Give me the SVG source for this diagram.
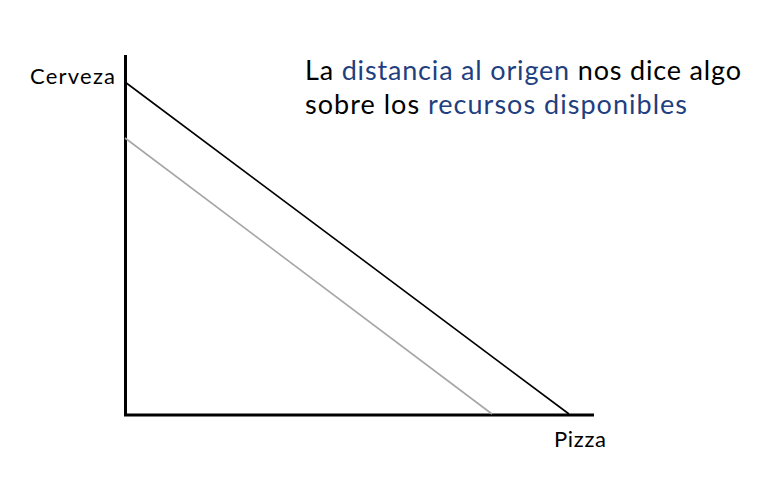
<svg xmlns="http://www.w3.org/2000/svg" width="762" height="477" viewBox="0 0 762 477">
<style>
text{font-family:Lato,"Liberation Sans",sans-serif;fill:#000}
.t{font-size:27px}
.b{fill:#1f3f80}
.l{font-size:22px}
</style>
<rect width="762" height="477" fill="#fff"/>
<g id="connectors" fill="none" stroke-linecap="butt">
<path d="M125.5 55 V415 H594" stroke="#000" stroke-width="3"/>
<path d="M125 82 L569 414" stroke="#000" stroke-width="1.6"/>
<path d="M125 138 L492 414" stroke="#a6a6a6" stroke-width="1.6"/>
</g>
<g id="title">
<text class="t" x="305" y="80" textLength="436">La <tspan class="b">distancia al origen</tspan> nos dice algo</text>
<text class="t" x="305" y="114" textLength="382">sobre los <tspan class="b">recursos disponibles</tspan></text>
</g>
<g id="y-label"><text class="l" x="30" y="84" textLength="85">Cerveza</text></g>
<g id="x-label"><text class="l" x="554" y="447" textLength="52">Pizza</text></g>
</svg>
